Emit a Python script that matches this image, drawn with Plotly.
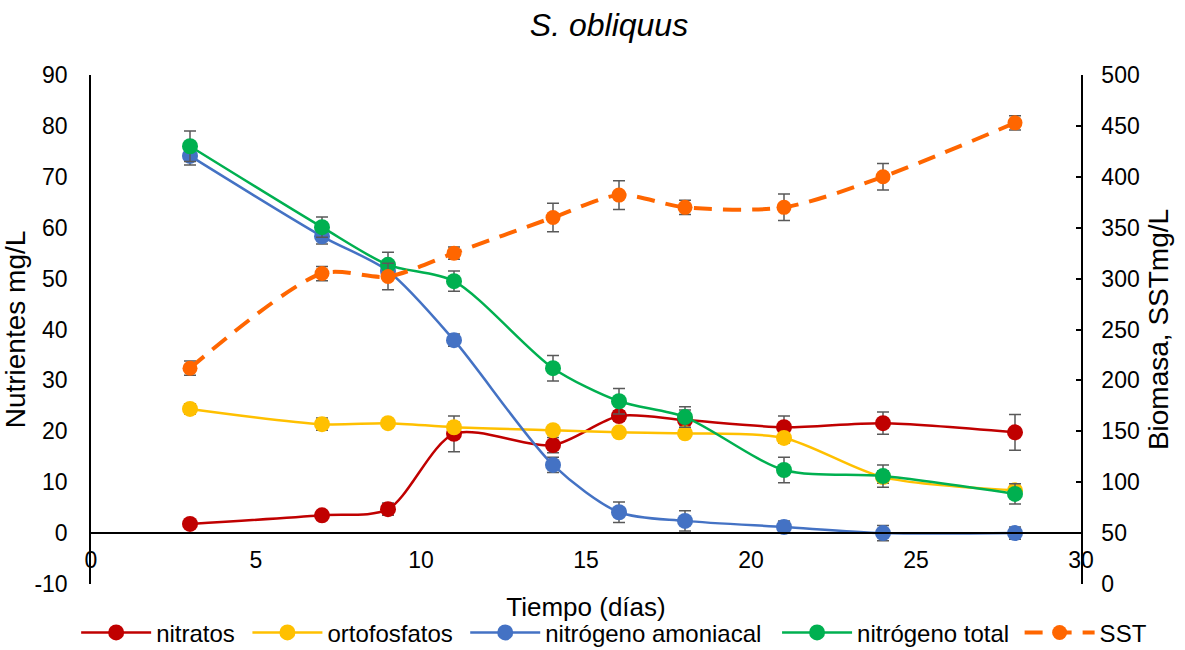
import plotly.graph_objects as go

# Sampling days
dias = [3, 7, 9, 11, 14, 16, 18, 21, 24, 28]

# Nutrients (mg/L) with standard deviations
nitratos = [1.8, 3.5, 4.7, 19.5, 17.3, 23.0, 22.2, 20.8, 21.6, 19.8]
nitratos_err = [0.5, 0.5, 1.2, 3.5, 1.5, 1.0, 2.0, 2.2, 2.2, 3.5]

ortofosfatos = [24.4, 21.4, 21.6, 20.8, 20.2, 19.8, 19.6, 18.7, 11.0, 8.4]
ortofosfatos_err = [1.0, 1.2, 0.8, 1.0, 0.8, 0.8, 0.8, 1.0, 1.2, 0.8]

amoniacal = [74.1, 58.3, 51.5, 37.9, 13.4, 4.1, 2.4, 1.2, 0.0, 0.0]
amoniacal_err = [1.8, 1.5, 0.8, 1.2, 1.5, 2.0, 2.0, 1.2, 1.5, 1.2]

n_total = [76.0, 60.1, 52.7, 49.5, 32.4, 25.9, 22.8, 12.4, 11.2, 7.7]
n_total_err = [3.0, 2.0, 2.5, 2.0, 2.5, 2.5, 2.0, 2.5, 2.2, 2.0]

# Biomass (SST mg/L)
sst = [212, 305, 302, 325, 360, 382, 370, 370, 400, 453]
sst_err = [7, 7, 13, 6, 14, 14, 7, 13, 13, 7]

# Axis ticks
x_ticks = [0, 5, 10, 15, 20, 25, 30]
y_ticks = [-10, 0, 10, 20, 30, 40, 50, 60, 70, 80, 90]
y2_ticks = [0, 50, 100, 150, 200, 250, 300, 350, 400, 450, 500]

FONT = "Liberation Sans, Arial, sans-serif"
ERR_COLOR = "#595959"


def err(vals):
    return dict(type="data", array=vals, visible=True, color=ERR_COLOR,
                thickness=1.5, width=6)


def nutrient(name, y, e, color, legend):
    return go.Scatter(
        x=dias, y=y, name=name, mode="lines+markers",
        line=dict(color=color, width=2.5, shape="spline", smoothing=0.8),
        marker=dict(color=color, size=16, symbol="circle"),
        error_y=err(e), yaxis="y", legend=legend, showlegend=True,
    )


fig = go.Figure()
fig.add_trace(nutrient("nitratos", nitratos, nitratos_err, "#C00000", "legend"))
fig.add_trace(nutrient("ortofosfatos", ortofosfatos, ortofosfatos_err, "#FFC000", "legend2"))
fig.add_trace(nutrient("nitrógeno amoniacal", amoniacal, amoniacal_err, "#4472C4", "legend3"))
fig.add_trace(nutrient("nitrógeno total", n_total, n_total_err, "#00B050", "legend4"))
fig.add_trace(go.Scatter(
    x=dias, y=sst, name="SST", mode="lines+markers",
    line=dict(color="#FF6600", width=4, shape="spline", smoothing=0.8,
              dash="18px,11px"),
    marker=dict(color="#FF6600", size=15, symbol="circle"),
    error_y=err(sst_err), yaxis="y2", legend="legend5", showlegend=True,
))

# one legend box per series, laid out in a single row under the axis title
legend_x = [-0.015, 0.158, 0.378, 0.693, 0.938]
legend_common = dict(orientation="h", xanchor="left", y=-0.096, yanchor="middle",
                     font=dict(size=24, family=FONT), itemwidth=70,
                     bgcolor="rgba(0,0,0,0)", visible=True)
legends = {
    ("legend" if i == 0 else f"legend{i + 1}"): dict(legend_common, x=lx)
    for i, lx in enumerate(legend_x)
}

fig.update_layout(
    width=1185, height=650,
    showlegend=True,
    margin=dict(l=91, r=104, t=75, b=66, autoexpand=False),
    paper_bgcolor="white", plot_bgcolor="white",
    font=dict(family=FONT, color="black", size=23),
    title=dict(text="<i>S. obliquus</i>", x=609 / 1185, xanchor="center",
               y=1 - 25 / 650, yanchor="middle", yref="container",
               xref="container",
               font=dict(size=32, family=FONT, color="black")),
    xaxis=dict(
        range=[0, 30], tickvals=x_ticks, ticktext=[str(v) for v in x_ticks],
        anchor="free", position=0.1, automargin=False,
        showline=True, linecolor="black", linewidth=1.5,
        showgrid=False, zeroline=False, ticks="",
        ticklabelstandoff=7,
        tickfont=dict(size=23),
        title=dict(text="Tiempo (días)", font=dict(size=26), standoff=24),
    ),
    yaxis=dict(
        range=[-10, 90], tickvals=y_ticks, ticktext=[str(v) for v in y_ticks],
        automargin=False,
        showline=True, linecolor="black", linewidth=1.5,
        showgrid=False, zeroline=False, ticks="",
        ticklabelstandoff=17,
        tickfont=dict(size=23),
        title=dict(text="Nutrientes mg/L", font=dict(size=28), standoff=8),
    ),
    yaxis2=dict(
        range=[0, 500], tickvals=y2_ticks, ticktext=[str(v) for v in y2_ticks],
        overlaying="y", side="right", anchor="x", automargin=False,
        showline=True, linecolor="black", linewidth=1.5,
        showgrid=False, zeroline=False,
        ticks="inside", ticklen=5, tickwidth=1.5, tickcolor="black",
        ticklabelstandoff=14,
        tickfont=dict(size=23),
        title=dict(text="Biomasa, SSTmg/L", font=dict(size=28), standoff=10),
    ),
    **legends,
)

fig.write_html("out.html")
